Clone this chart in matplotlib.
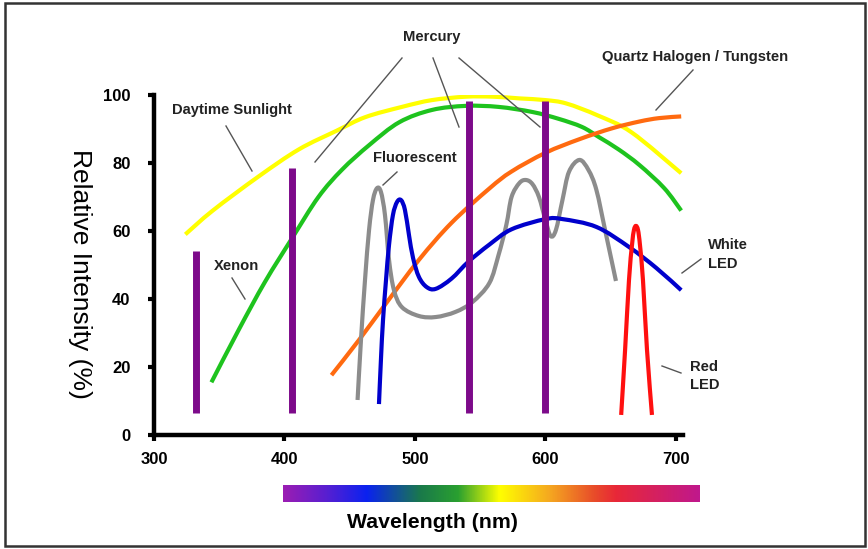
import matplotlib.pyplot as plt
import numpy as np
from matplotlib.colors import LinearSegmentedColormap
from matplotlib.patches import Rectangle, PathPatch
from matplotlib.lines import Line2D
from matplotlib.path import Path

plt.rcParams['font.family'] = ['Liberation Sans', 'DejaVu Sans']

W, H = 868, 549

# values (wavelength nm, relative intensity %)
sun_x = [324, 345, 380, 411, 440, 462, 490, 513, 539, 560, 580, 600, 616, 640, 666, 704]
sun_y = [59, 66, 76, 84, 89.5, 93.5, 96.5, 98.5, 99.5, 99.5, 99, 98.5, 97.5, 94, 89, 77]

xenon_x = [344, 365, 385, 406, 426, 444, 465, 488, 513, 539, 564, 590, 610, 628, 641, 656, 672, 691, 704]
xenon_y = [15.5, 31, 45, 58, 70, 78, 85.3, 92, 95.6, 96.8, 96.5, 95, 93, 90.6, 87.6, 84, 79.4, 72.6, 66]

halogen_x = [436, 457, 478, 503, 528, 557, 574, 600, 626, 651, 672, 687, 704]
halogen_y = [17.6, 27.9, 38.8, 51.5, 62.4, 72.5, 77.5, 83, 87, 90.2, 92.2, 93.2, 93.7]

fluor_x = [456, 458.6, 461.7, 464.8, 467.8, 470.9, 473.9, 477, 480.1, 483.9, 490, 503, 516,
           531, 544, 557, 564, 570, 574, 580, 585, 590, 595, 600, 604, 608, 613, 618, 626,
           633, 639, 646, 654]
fluor_y = [10.3, 27.9, 45.6, 60.3, 69.1, 72.6, 71.5, 64.7, 51.5, 42.6, 37.6, 35, 34.7,
           36.2, 39.1, 44.7, 52.9, 61.8, 70, 74.1, 75, 73.8, 70, 63.2, 58.5, 60.3, 69.1,
           77.4, 80.9, 77.9, 72.1, 59.7, 45.3]

wled_x = [472.4, 473.9, 475.5, 477.8, 480.1, 483.1, 486.2, 489.3, 492.3, 495.4, 498.5, 503,
          509, 516, 528, 541, 557, 574, 600, 613, 639, 664, 685, 704]
wled_y = [9.1, 22.1, 33.8, 45.6, 55.9, 64.7, 68.5, 69.1, 66.2, 58.8, 52.1, 46.5, 43.5, 43,
          46, 51, 56, 60.5, 63.5, 63.5, 61.2, 55.3, 49.1, 42.6]

rled_x = [658, 661, 664, 666.3, 667.8, 669.3, 670.9, 672.4, 674.7, 677.8, 681.6]
rled_y = [5.9, 25, 45.6, 55.9, 60.3, 61.5, 60.3, 55.9, 45.6, 25, 5.9]

# xenon / mercury emission lines
spike_x = [332, 405.7, 541.4, 599.6]
spike_top = [54, 78.5, 98.2, 98.2]
spike_base = 6.5

tick_x = [300, 400, 500, 600, 700]
tick_y = [0, 20, 40, 60, 80, 100]

spectrum_colors = ['#9b1db3', '#5a1fd0', '#0a22f0', '#1a7a4a', '#2aa030', '#ffff00',
                   '#f5a820', '#e84a2a', '#e82838', '#c0188c']
spectrum_pos = [0.0, 0.1, 0.2, 0.33, 0.42, 0.52, 0.64, 0.75, 0.8, 1.0]


def px(x, y):
    return x / W, 1 - y / H


def smooth_curve(ax, xs, ys, color, lw=3):
    # catmull-rom through the read points, drawn as a bezier path
    p = np.column_stack([xs, ys]).astype(float)
    verts = [p[0]]
    codes = [Path.MOVETO]
    n = len(p)
    for i in range(n - 1):
        p0 = p[i - 1] if i > 0 else p[i]
        p3 = p[i + 2] if i + 2 < n else p[i + 1]
        c1 = p[i] + (p[i + 1] - p0) / 6
        c2 = p[i + 1] - (p3 - p[i]) / 6
        verts += [c1, c2, p[i + 1]]
        codes += [Path.CURVE4] * 3
    ax.add_patch(PathPatch(Path(verts, codes), fill=False, edgecolor=color, lw=lw,
                           capstyle='butt', joinstyle='round'))


fig = plt.figure(figsize=(W / 100, H / 100), dpi=100)

l, b = px(154, 435)
ax = fig.add_axes([l, b, 528.5 / W, 340 / H])
ax.set_xlim(300, 705)
ax.set_ylim(0, 100)

smooth_curve(ax, sun_x, sun_y, '#ffff00')
smooth_curve(ax, xenon_x, xenon_y, '#1ec31e')
smooth_curve(ax, halogen_x, halogen_y, '#ff6a10')
ax.vlines(spike_x, spike_base, spike_top, color='#7d0a8a', lw=5)
smooth_curve(ax, fluor_x, fluor_y, '#8c8c8c')
smooth_curve(ax, wled_x, wled_y, '#0000cc')
smooth_curve(ax, rled_x, rled_y, '#ff1010')

for s in ['top', 'right']:
    ax.spines[s].set_visible(False)
for s in ['left', 'bottom']:
    ax.spines[s].set_linewidth(3.2)
ax.set_xticks(tick_x)
ax.set_yticks(tick_y)
ax.tick_params(direction='out', length=4, width=3, labelsize=12)
ax.tick_params(axis='x', pad=8)
ax.tick_params(axis='y', pad=13)
for t in ax.get_xticklabels() + ax.get_yticklabels():
    t.set_fontweight('bold')

# labels and pointer lines (figure pixels)
labels = [
    ('Mercury', 432, 37, 'center'),
    ('Quartz Halogen / Tungsten', 695, 57, 'center'),
    ('Daytime Sunlight', 232, 110, 'center'),
    ('Fluorescent', 415, 158, 'center'),
    ('Xenon', 237, 266, 'center'),
    ('White', 708, 245, 'left'),
    ('LED', 708, 264, 'left'),
    ('Red', 690, 367, 'left'),
    ('LED', 690, 385, 'left'),
]
for txt, x, y, ha in labels:
    fx, fy = px(x, y)
    fig.text(fx, fy, txt, ha=ha, va='center', fontsize=10.6, fontweight='bold', color='#222222')

pointers = [
    ((402, 58), (315, 162)),
    ((433, 58), (459, 127)),
    ((459, 58), (540, 127)),
    ((693, 70), (656, 110)),
    ((226, 126), (252, 171)),
    ((397, 172), (383, 185)),
    ((232, 278), (245, 299)),
    ((701, 259), (682, 273)),
    ((681, 373), (662, 366)),
]
for p0, p1 in pointers:
    a, c = px(*p0)
    bb, d = px(*p1)
    fig.add_artist(Line2D([a, bb], [c, d], color='#555555', lw=1))

fx, fy = px(80, 274)
fig.text(fx, fy, 'Relative Intensity (%)', rotation=270, ha='center', va='center', fontsize=19)
fx, fy = px(432, 522)
fig.text(fx, fy, 'Wavelength (nm)', ha='center', va='center', fontsize=15.3, fontweight='bold')

# spectrum strip
cmap = LinearSegmentedColormap.from_list('spec', list(zip(spectrum_pos, spectrum_colors)))
l, b = px(283, 502)
cax = fig.add_axes([l, b, 417 / W, 17 / H])
cax.imshow(np.linspace(0, 1, 256)[None, :], cmap=cmap, aspect='auto')
cax.axis('off')

# outer frame
x0, y0 = px(5, 546)
fig.add_artist(Rectangle((x0, y0), 860 / W, 543 / H, transform=fig.transFigure,
                         fill=False, edgecolor='#333333', lw=1.8))

fig.savefig('out.png', dpi=100)
